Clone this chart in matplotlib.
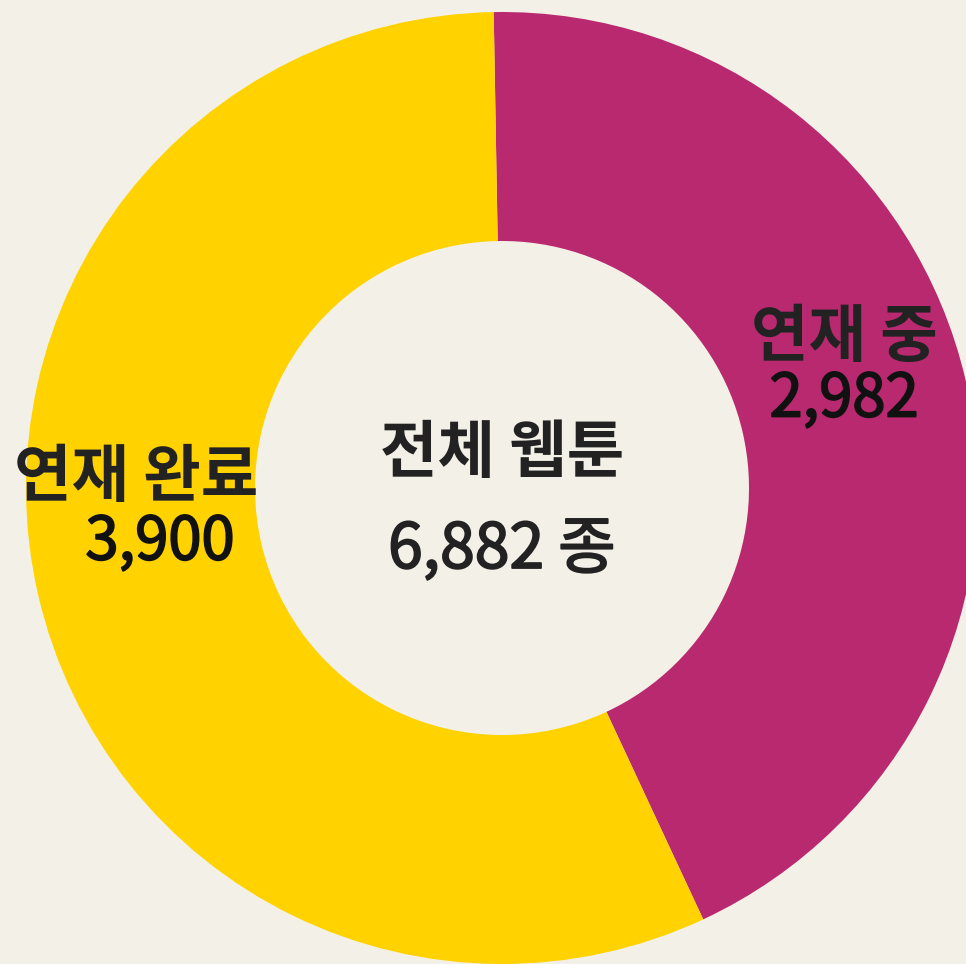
import matplotlib.pyplot as plt
import matplotlib.patheffects as pe

# data
labels = ["연재 중", "연재 완료"]
values = [2982, 3900]
colors = ["#b9296f", "#ffd200"]
total = sum(values)

plt.rcParams['font.family'] = ['Noto Sans CJK KR', 'DejaVu Sans']

fig = plt.figure(figsize=(9.66, 9.64), dpi=100, facecolor="#f3f0e7")
ax = fig.add_axes([0, 0, 1, 1])
ax.set_facecolor("#f3f0e7")

# pixel coordinates, y measured from the bottom
cx, cy = 502, 964 - 488
R, r = 476, 247

ax.pie(values, colors=colors, startangle=91, counterclock=False,
       center=(cx, cy), radius=R,
       wedgeprops=dict(width=R - r, linewidth=0))

ax.set_xlim(0, 966)
ax.set_ylim(0, 964)
ax.set_aspect("equal")
ax.axis("off")

# slightly thickened regular weight, to look like a medium face
def medium(c):
    return [pe.withStroke(linewidth=1.3, foreground=c)]

# segment labels
ax.text(844, 964 - 338, labels[0], ha="center", va="center",
        fontsize=45, fontweight="bold", color="#222222")
ax.text(844, 964 - 400, f"{values[0]:,}", ha="center", va="center",
        fontsize=43, color="#111111", path_effects=medium("#111111"))
ax.text(136, 964 - 478, labels[1], ha="center", va="center",
        fontsize=45, fontweight="bold", color="#222222")
ax.text(160, 964 - 543, f"{values[1]:,}", ha="center", va="center",
        fontsize=43, color="#111111", path_effects=medium("#111111"))

# centre text
ax.text(cx, 964 - 453, "전체 웹툰", ha="center", va="center",
        fontsize=45, fontweight="bold", color="#222222")
ax.text(cx, 964 - 550, f"{total:,} 종", ha="center", va="center",
        fontsize=45, color="#222222", path_effects=medium("#222222"))

fig.savefig("out.png", dpi=100, facecolor=fig.get_facecolor())
